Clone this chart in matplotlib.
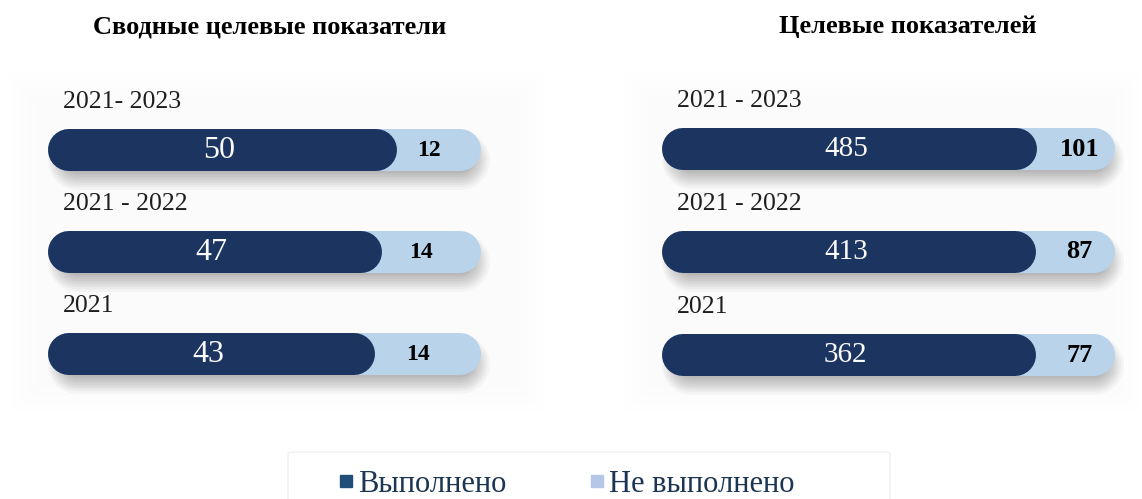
import matplotlib.pyplot as plt
from matplotlib.patches import FancyBboxPatch

plt.rcParams['font.family'] = ['Liberation Serif', 'DejaVu Serif']

# data
periods_left = ['2021- 2023', '2021 - 2022', '2021']
done_left = [50, 47, 43]
notdone_left = [12, 14, 14]

periods_right = ['2021 - 2023', '2021 - 2022', '2021']
done_right = [485, 413, 362]
notdone_right = [101, 87, 77]

titles = ['Сводные целевые показатели', 'Целевые показателей']
legend_labels = ['Выполнено', 'Не выполнено']

dark = '#203864'
light = '#bdd7ee'
W, H = 1142, 499

fig = plt.figure(figsize=(W / 100, H / 100), dpi=100)


def card(x0, y0, x1, y1):
    # very faint glow behind a panel
    for k in range(4):
        r = FancyBboxPatch(((x0 + k * 8) / W, 1 - (y1 - k * 8) / H),
                           (x1 - x0 - k * 16) / W, (y1 - y0 - k * 16) / H,
                           boxstyle='round,pad=0,rounding_size=0.01',
                           transform=fig.transFigure, facecolor='#000000',
                           edgecolor='none', alpha=0.003, zorder=0)
        fig.patches.append(r)


def panel(px0, px1, bar_l, bar_r, centers, periods, done, notdone, title, title_x,
          vsize, nsize, nshift):
    top, bot = 70, 420
    ax = fig.add_axes([px0 / W, 1 - bot / H, (px1 - px0) / W, (bot - top) / H])
    ax.patch.set_alpha(0)
    lw_px = 42
    cap = lw_px / 2
    s0, s1 = bar_l + cap, bar_r - cap
    scale = s1 - s0
    total = bar_r - bar_l
    ax.set_xlim(-(s0 - px0) / scale, (px1 - s0) / scale)
    sp = centers[1] - centers[0]
    ax.set_ylim((bot - centers[0]) / sp, (top - centers[0]) / sp)
    ax.axis('off')
    lw = lw_px * 0.72
    for i, (p, d, n) in enumerate(zip(periods, done, notdone)):
        y = (centers[i] - centers[0]) / sp
        frac = d / (d + n)
        end_px = bar_l + frac * total
        end = (end_px - cap - s0) / scale
        # soft shadow
        for k in range(9):
            ax.plot([0.02, 1], [y + 10 / sp, y + 10 / sp], color='black', alpha=0.03,
                    lw=lw - 12 + k * 3, solid_capstyle='round', zorder=1)
        ax.plot([0, 1], [y, y], color=light, lw=lw, solid_capstyle='round', zorder=2)
        ax.plot([0, end], [y, y], color=dark, lw=lw, solid_capstyle='round', zorder=3)
        ax.text(((bar_l + end_px) / 2 - 3 - s0) / scale, y, str(d), color='white',
                fontsize=vsize, ha='center', va='center', zorder=4)
        ax.text(((end_px + bar_r) / 2 + nshift - s0) / scale, y, str(n), color='black',
                fontsize=nsize, fontweight='bold', ha='center', va='center', zorder=4)
        ax.text(-(cap - 15) / scale, y - 48 / sp, p, color='#222222', fontsize=18.5,
                ha='left', va='center')
    fig.text(title_x / W, 1 - 27 / H, title, fontsize=19, fontweight='bold',
             ha='center', va='center')


card(10, 72, 545, 412)
card(625, 72, 1140, 412)
panel(40, 500, 48, 481, [150, 252, 354], periods_left, done_left, notdone_left,
      titles[0], 270, 23, 17, -10)
panel(650, 1130, 662, 1115, [149, 252, 355], periods_right, done_right, notdone_right,
      titles[1], 908, 21, 19, 4)

# legend box (runs off the bottom edge)
box = FancyBboxPatch((288 / W, -0.05), (890 - 288) / W, (1 - 452 / H) + 0.05,
                     boxstyle='round,pad=0,rounding_size=0.004', transform=fig.transFigure,
                     facecolor='white', edgecolor='#ececec', linewidth=0.8, zorder=1)
fig.patches.append(box)

handles = [plt.Line2D([], [], marker='s', ls='', color='#1f4e79', markersize=9),
           plt.Line2D([], [], marker='s', ls='', color='#b4c7e7', markersize=9)]
leg = fig.legend(handles, legend_labels, loc='center', bbox_to_anchor=(565 / W, 1 - 484 / H),
                 ncol=2, frameon=False, fontsize=22, handletextpad=0.05, columnspacing=2.6,
                 borderaxespad=0, handlelength=0.7)
for t in leg.get_texts():
    t.set_color('#1c3553')

fig.savefig('out.png', dpi=100)
